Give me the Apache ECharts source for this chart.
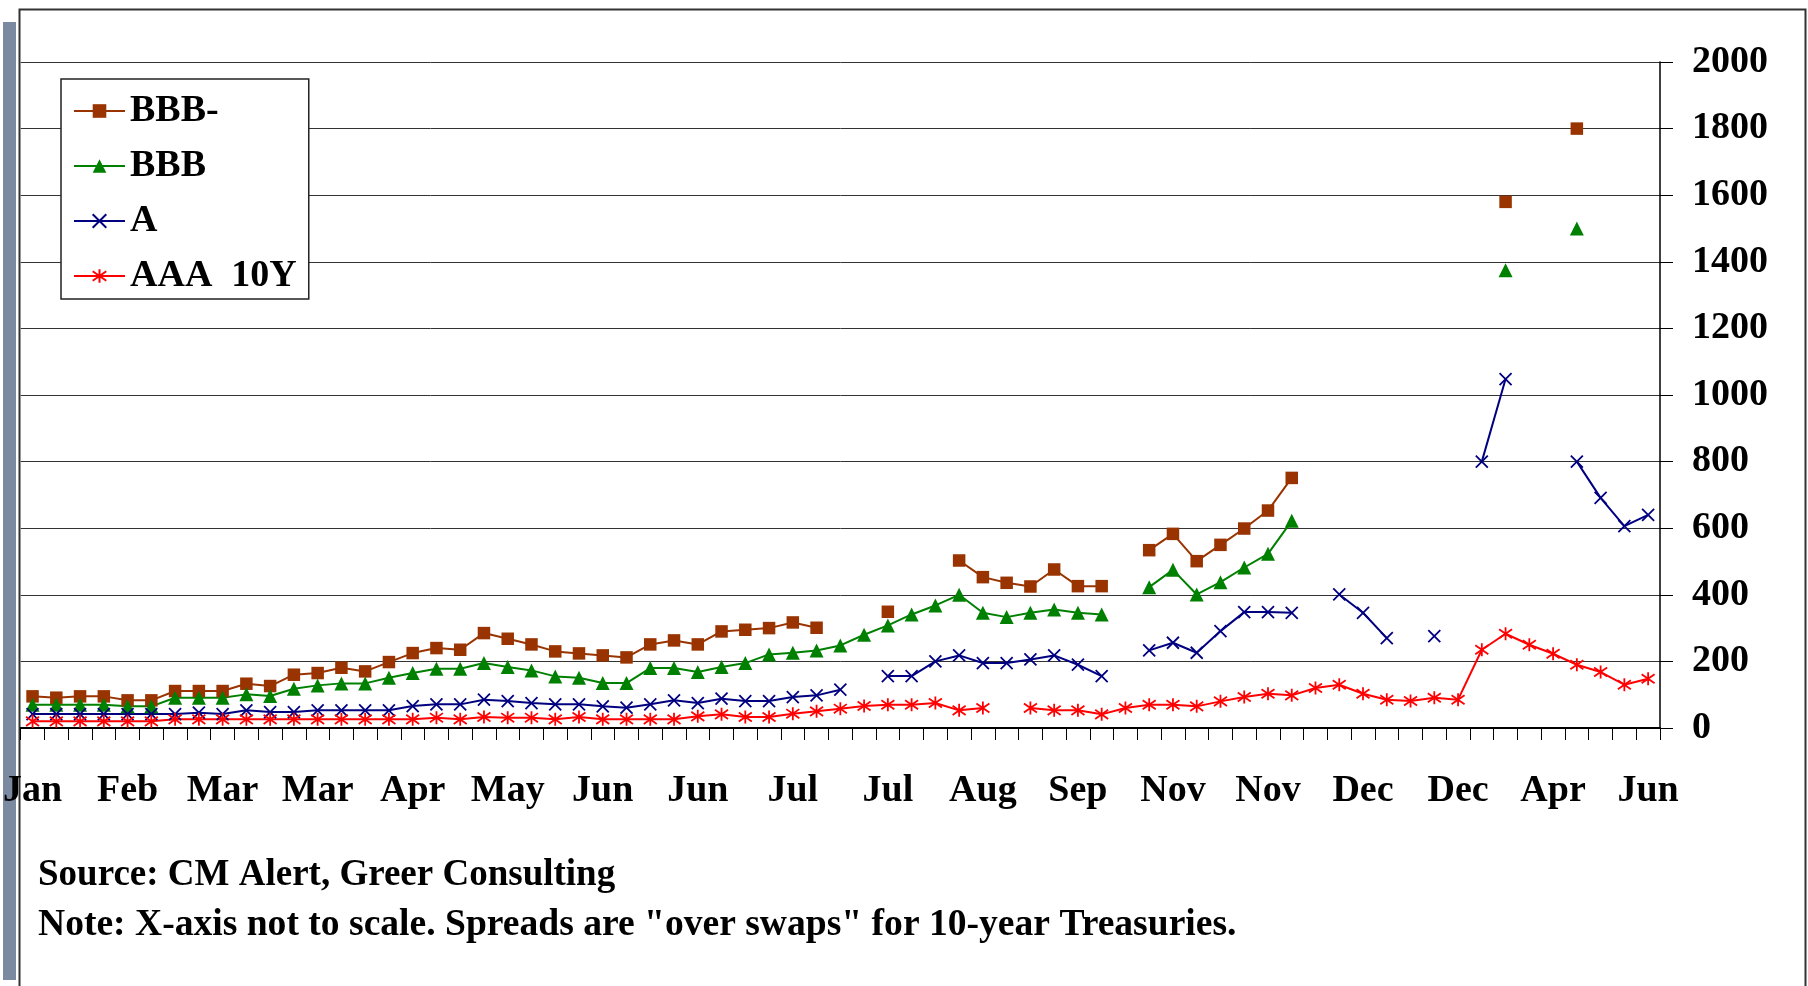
<!DOCTYPE html>
<html>
<head>
<meta charset="utf-8">
<script src="https://cdn.jsdelivr.net/npm/echarts@6/dist/echarts.min.js"></script>
<style>
  html, body { margin: 0; padding: 0; background: #fff; }
  #main { width: 1808px; height: 986px; }
</style>
</head>
<body>
<div id="main"></div>
<script type="text/javascript">
  // tick labels shown on every 4th category
  var tickLabels = ['Jan', 'Feb', 'Mar', 'Mar', 'Apr', 'May', 'Jun', 'Jun', 'Jul', 'Jul',
                    'Aug', 'Sep', 'Nov', 'Nov', 'Dec', 'Dec', 'Apr', 'Jun'];
  // 69 observations, named after the label of their group
  var categories = [];
  for (var i = 0; i < 69; i++) {
    categories.push(tickLabels[Math.floor(i / 4)] + ' #' + (i % 4 + 1));
  }

  var bbbMinus = [
    95, 91, 95, 95, 83, 83, 111, 111, 111, 133,
    126, 160, 165, 181, 170, 198, 225, 240, 235, 285,
    268, 251, 230, 224, 218, 212, 251, 263, 251, 290,
    295, 300, 317, 301, null, null, 349, null, null, 503,
    453, 436, 425, 476, 426, 426, null, 534, 583, 501,
    550, 599, 653, 751, null, null, null, null, null, null,
    null, null, 1580, null, null, 1800, null, null, null
  ];
  var bbb = [
    70, 70, 70, 70, 65, 65, 91, 91, 91, 101,
    96, 118, 128, 134, 134, 151, 165, 178, 178, 195,
    183, 173, 155, 151, 135, 135, 180, 180, 168, 183,
    195, 221, 226, 233, 248, 280, 308, 341, 368, 400,
    346, 333, 346, 356, 346, 341, null, 423, 475, 401,
    438, 482, 523, 622, null, null, null, null, null, null,
    null, null, 1375, null, null, 1500, null, null, null
  ];
  var ratingA = [
    42, 42, 42, 42, 42, 42, 42, 46, 42, 53,
    48, 48, 53, 53, 53, 53, 66, 71, 71, 85,
    81, 75, 71, 71, 65, 61, 71, 83, 75, 88,
    81, 81, 93, 98, 115, null, 156, 156, 200, 218,
    195, 195, 206, 218, 190, 156, null, 233, 256, 226,
    291, 348, 348, 346, null, 401, 346, 270, null, 276,
    null, 800, 1048, null, null, 800, 691, 606, 640
  ];
  var aaa10y = [
    20, 20, 20, 20, 20, 20, 26, 26, 26, 26,
    26, 26, 26, 26, 26, 26, 26, 31, 26, 33,
    31, 31, 26, 33, 26, 26, 26, 26, 35, 41,
    33, 33, 43, 50, 58, 66, 70, 70, 75, 53,
    60, null, 60, 53, 53, 41, 60, 70, 70, 65,
    80, 93, 103, 98, 120, 130, 103, 85, 81, 91,
    85, 235, 283, 250, 223, 190, 168, 130, 148
  ];

  var serif = "'Liberation Serif', 'Times New Roman', serif";
  var xMark = 'path://M0,0L10,10M10,0L0,10';
  var starMark = 'path://M5,0L5,10M0.8,1.5L9.2,8.5M9.2,1.5L0.8,8.5';

  function lineSeries(name, data, color, symbol, size, stroke) {
    return {
      name: name,
      type: 'line',
      data: data,
      symbol: symbol,
      symbolSize: size,
      showAllSymbol: true,
      connectNulls: false,
      lineStyle: { color: color, width: 2 },
      itemStyle: { color: color, borderColor: color, borderWidth: stroke },
      emphasis: { disabled: true },
      animation: false
    };
  }

  var myChart = echarts.init(document.getElementById('main'));
  var option = {
    backgroundColor: '#fff',
    animation: false,
    grid: { left: 18, top: 62, width: 1642, height: 666 },
    legend: {
      orient: 'vertical',
      left: 61,
      top: 79,
      padding: [11, 12, 2, 12],
      itemWidth: 51,
      itemHeight: 17,
      itemGap: 13,
      backgroundColor: '#fff',
      borderColor: '#222',
      borderWidth: 1.5,
      textStyle: { fontFamily: serif, fontWeight: 'bold', fontSize: 38, color: '#000', lineHeight: 42 },
      data: ['BBB-', 'BBB', 'A', 'AAA  10Y']
    },
    xAxis: {
      type: 'category',
      data: categories,
      boundaryGap: true,
      axisLine: { lineStyle: { color: '#000', width: 2 } },
      axisTick: { show: true, interval: 0, length: 12, lineStyle: { color: '#000', width: 1 } },
      axisLabel: {
        interval: 3,
        margin: 44,
        fontFamily: serif,
        fontWeight: 'bold',
        fontSize: 38,
        color: '#000',
        formatter: function (v) { return v.split(' ')[0]; }
      },
      splitLine: { show: false }
    },
    yAxis: {
      type: 'value',
      position: 'right',
      min: 0,
      max: 2000,
      interval: 200,
      axisLine: { show: true, lineStyle: { color: '#000', width: 1.5 } },
      axisTick: { show: true, length: 13, lineStyle: { color: '#000' } },
      axisLabel: {
        margin: 32, fontFamily: serif, fontWeight: 'bold', fontSize: 38, color: '#000',
        formatter: function (v) { return String(v); }
      },
      splitLine: { show: true, lineStyle: { color: '#333', width: 1 } }
    },
    graphic: [
      { type: 'rect', left: 3, top: 22, shape: { width: 13, height: 958 }, style: { fill: '#7b8aa0' }, z: 0 },
      { type: 'rect', left: 17, top: 7, shape: { width: 1786, height: 978 }, style: { fill: null, stroke: '#333', lineWidth: 2 }, z: 0 },
      { type: 'text', left: 38, top: 857, style: { text: 'Source: CM Alert, Greer Consulting', font: 'bold 37px ' + serif, fill: '#000' } },
      { type: 'text', left: 38, top: 906, style: { text: 'Note: X-axis not to scale. Spreads are "over swaps" for 10-year Treasuries.', font: 'bold 37.6px ' + serif, fill: '#000' } }
    ],
    series: [
      lineSeries('BBB-', bbbMinus, '#993300', 'rect', 12.5, 0),
      lineSeries('BBB', bbb, '#008000', 'triangle', 14, 0),
      lineSeries('A', ratingA, '#000080', xMark, 12, 1.8),
      lineSeries('AAA  10Y', aaa10y, '#ff0000', starMark, 13, 1.8)
    ]
  };
  myChart.setOption(option);
</script>
</body>
</html>
